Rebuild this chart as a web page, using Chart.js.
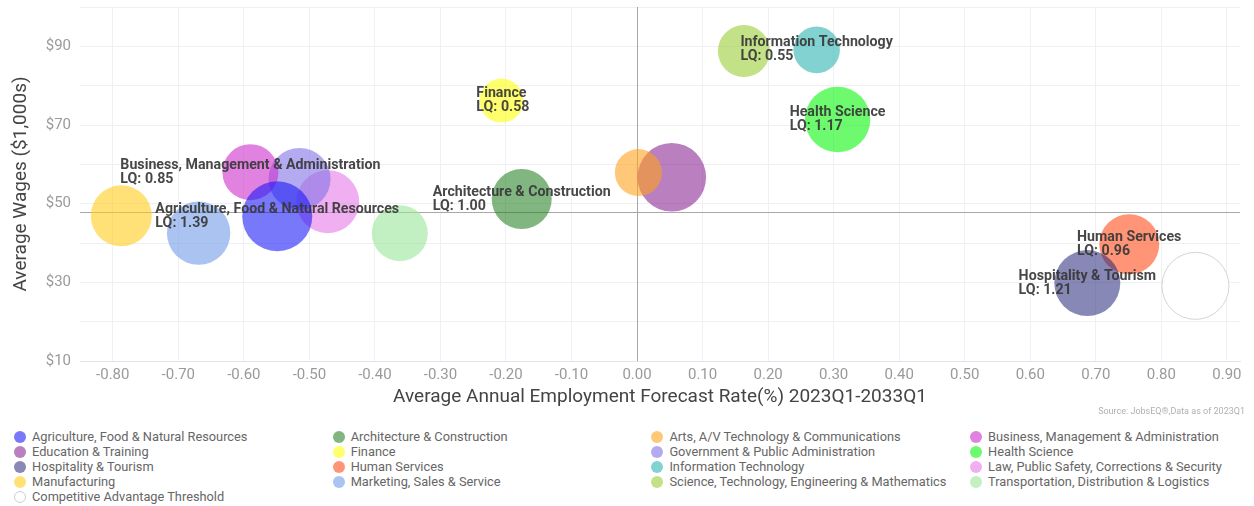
<!DOCTYPE html>
<html>
<head>
<meta charset="utf-8">
<script src="https://cdn.jsdelivr.net/npm/chart.js@4"></script>
<style>
  html, body { margin: 0; padding: 0; background: #fff; }
  #wrap { position: relative; width: 1254px; height: 425px; }
  #legend {
    display: grid;
    grid-template-columns: 318.7px 318.7px 318.7px 318.7px;
    margin: 4px 0 0 14px;
    font: 12.8px Roboto, sans-serif;
    color: #666;
  }
  .item { height: 15px; line-height: 15px; white-space: nowrap; }
  .dot {
    display: inline-block; width: 12px; height: 12px; border-radius: 50%;
    vertical-align: -2px; margin-right: 6px; box-sizing: border-box;
  }
</style>
</head>
<body>
<div id="wrap"><canvas id="bubbleChart"></canvas></div>
<div id="legend"></div>
<script>
const categories = [
  'Agriculture, Food & Natural Resources',
  'Architecture & Construction',
  'Arts, A/V Technology & Communications',
  'Business, Management & Administration',
  'Education & Training',
  'Finance',
  'Government & Public Administration',
  'Health Science',
  'Hospitality & Tourism',
  'Human Services',
  'Information Technology',
  'Law, Public Safety, Corrections & Security',
  'Manufacturing',
  'Marketing, Sales & Service',
  'Science, Technology, Engineering & Mathematics',
  'Transportation, Distribution & Logistics',
  'Competitive Advantage Threshold'
];
// employment forecast rate (%), average wage ($1,000s), bubble radius, location quotient
const forecastRate = [-0.549, -0.176, 0.002, -0.590, 0.053, -0.207, -0.515, 0.306, 0.687, 0.751, 0.274, -0.472, -0.787, -0.669, 0.163, -0.362, 0.852];
const avgWage      = [46.8, 51.2, 57.9, 58.0, 56.7, 76.2, 56.3, 71.4, 29.8, 39.7, 89.1, 50.5, 46.9, 42.5, 88.8, 42.5, 29.1];
const bubbleSize   = [35, 30, 23.5, 28, 34.3, 22, 31, 32.7, 33, 30, 23.3, 31.5, 30.5, 31.7, 26, 28, 33.5];
const lqValues     = [1.39, 1.00, null, 0.85, null, 0.58, null, 1.17, 1.21, 0.96, 0.55, null, null, null, null, null, null];

const xTicks = { min: -0.85, max: 0.92, step: 0.1 };
const yTicks = { min: 10, max: 100, step: 10 };
const rateThreshold = 0;
const wageThreshold = 47.8;

const colors = [
  'rgba(22,22,247,0.58)',
  'rgba(30,125,30,0.56)',
  'rgba(255,163,30,0.6)',
  'rgba(205,47,205,0.6)',
  'rgba(130,22,138,0.55)',
  'rgba(255,255,13,0.6)',
  'rgba(130,113,230,0.6)',
  'rgba(13,247,13,0.6)',
  'rgba(38,38,122,0.55)',
  'rgba(255,70,20,0.58)',
  'rgba(47,180,180,0.6)',
  'rgba(230,122,230,0.6)',
  'rgba(255,205,30,0.6)',
  'rgba(113,155,230,0.6)',
  'rgba(155,205,55,0.6)',
  'rgba(155,230,155,0.6)',
  '#ffffff'
];

const datasets = categories.map((name, i) => ({
  label: name,
  lq: lqValues[i],
  data: [{ x: forecastRate[i], y: avgWage[i], r: bubbleSize[i] }],
  backgroundColor: colors[i],
  borderColor: i === categories.length - 1 ? '#d4d4d4' : colors[i],
  borderWidth: i === categories.length - 1 ? 1 : 0
}));

// cross-hair lines at the threshold values
const thresholdLines = {
  id: 'thresholdLines',
  beforeDatasetsDraw(chart) {
    const { ctx, chartArea: a, scales: { x, y } } = chart;
    const px = x.getPixelForValue(rateThreshold);
    const py = y.getPixelForValue(wageThreshold);
    ctx.save();
    ctx.strokeStyle = '#a8a8a8';
    ctx.lineWidth = 1;
    ctx.beginPath();
    ctx.moveTo(Math.round(px) + 0.5, a.top);
    ctx.lineTo(Math.round(px) + 0.5, a.bottom);
    ctx.moveTo(a.left, Math.round(py) + 0.5);
    ctx.lineTo(a.right, Math.round(py) + 0.5);
    ctx.stroke();
    ctx.restore();
  }
};

// name + LQ text over the labelled bubbles, plus the source note
const bubbleLabels = {
  id: 'bubbleLabels',
  afterDatasetsDraw(chart) {
    const ctx = chart.ctx;
    ctx.save();
    ctx.font = 'bold 14.2px Roboto';
    ctx.fillStyle = 'rgba(55,55,55,0.92)';
    ctx.textBaseline = 'middle';
    ctx.textAlign = 'left';
    chart.data.datasets.forEach((ds, i) => {
      if (ds.lq == null) return;
      const pt = chart.getDatasetMeta(i).data[0];
      const x0 = pt.x - ctx.measureText(ds.label).width / 2;
      ctx.fillText(ds.label, x0, pt.y - 7);
      ctx.fillText('LQ: ' + ds.lq.toFixed(2), x0, pt.y + 7);
    });
    ctx.font = '9px Roboto';
    ctx.fillStyle = '#b0b0b0';
    ctx.textAlign = 'right';
    ctx.fillText('Source: JobsEQ®,Data as of 2023Q1', 1245, 412);
    ctx.restore();
  }
};

const ctx = document.getElementById('bubbleChart').getContext('2d');
const chart = new Chart(ctx, {
  type: 'bubble',
  data: { datasets: datasets },
  plugins: [thresholdLines, bubbleLabels],
  options: {
    responsive: true,
    maintainAspectRatio: false,
    animation: false,
    layout: { autoPadding: false, padding: { left: 0, right: 14, top: 7, bottom: 0 } },
    plugins: {
      legend: { display: false },
      tooltip: { enabled: false }
    },
    scales: {
      x: {
        type: 'linear',
        min: xTicks.min,
        max: xTicks.max,
        afterFit(scale) { scale.height = 64; scale.paddingLeft = 0; scale.paddingRight = 0; },
        grid: { color: '#eef0f4', drawTicks: false },
        border: { display: true, color: '#dfe4ee' },
        ticks: {
          stepSize: xTicks.step,
          includeBounds: false,
          padding: 5,
          color: '#9a9a9a',
          font: { family: 'Roboto', size: 15 },
          callback: v => (Math.abs(v) < 1e-9 ? 0 : v).toFixed(2)
        },
        title: {
          display: true,
          text: 'Average Annual Employment Forecast Rate(%) 2023Q1-2033Q1',
          color: '#444',
          font: { family: 'Roboto', size: 19 },
          padding: { top: 0, bottom: 16 }
        }
      },
      y: {
        type: 'linear',
        min: yTicks.min,
        max: yTicks.max,
        afterFit(scale) { scale.width = 80; scale.paddingTop = 0; scale.paddingBottom = 0; },
        grid: { color: '#eef0f4', drawTicks: false },
        border: { display: false },
        ticks: {
          stepSize: yTicks.step,
          padding: 9,
          color: '#9a9a9a',
          font: { family: 'Roboto', size: 15 },
          callback: v => (Math.round(v) % 20 === 10 ? '$' + Math.round(v) : '')
        },
        title: {
          display: true,
          text: 'Average Wages ($1,000s)',
          color: '#444',
          font: { family: 'Roboto', size: 19 },
          padding: { top: 10, bottom: 0 }
        }
      }
    }
  }
});

// legend in four columns, filled row by row
const legendEl = document.getElementById('legend');
chart.data.datasets.forEach((ds, i) => {
  const item = document.createElement('div');
  item.className = 'item';
  const dot = document.createElement('span');
  dot.className = 'dot';
  dot.style.background = ds.backgroundColor;
  if (ds.borderWidth) dot.style.border = '1px solid #cfcfcf';
  item.appendChild(dot);
  item.appendChild(document.createTextNode(ds.label));
  legendEl.appendChild(item);
});
</script>
</body>
</html>
